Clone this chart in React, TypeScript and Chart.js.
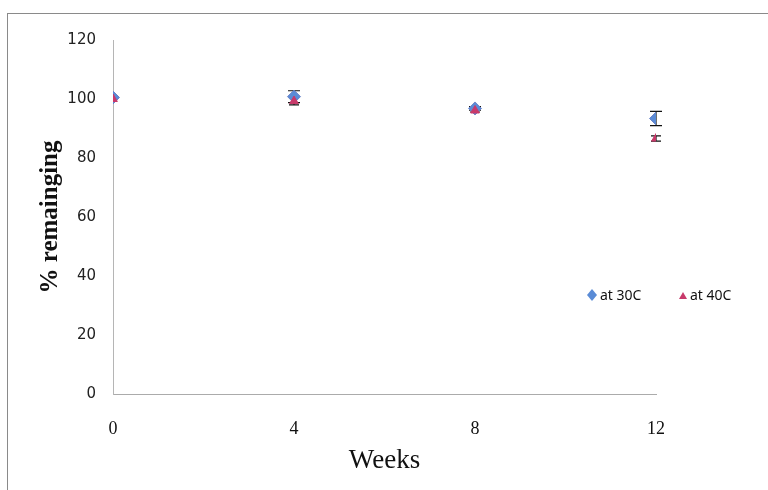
import React, { useEffect, useRef } from "react";
import { Chart, registerables } from "chart.js";

Chart.register(...registerables);

const weeks = [0, 4, 8, 12];
const at30 = [100.5, 100.8, 96.8, 93.4];
const at40 = [100.0, 99.3, 96.1, 86.6];
const err30 = [0, 2.0, 0.6, 2.4];
const err40 = [0, 1.3, 0.5, 0.9];
const xTicks = [0, 4, 8, 12];
const yTicks = [0, 20, 40, 60, 80, 100, 120];
const seriesNames = ["at 30C", "at 40C"];

const BLUE = "#5A8BD6";
const RED = "#C8396A";

const errorBarPlugin = {
  id: "errorBars",
  beforeDatasetsDraw(chart: any) {
    const ctx = chart.ctx;
    const xs = chart.scales.x;
    const ys = chart.scales.y;
    chart.data.datasets.forEach((ds: any) => {
      const errs: number[] = ds.errors || [];
      ds.data.forEach((p: any, i: number) => {
        const e = errs[i];
        if (!e) return;
        const px = xs.getPixelForValue(p.x);
        const top = ys.getPixelForValue(p.y + e);
        const bot = ys.getPixelForValue(p.y - e);
        const cap = ds.capWidth || 5;
        ctx.save();
        ctx.strokeStyle = "#111";
        ctx.lineWidth = 1.2;
        ctx.beginPath();
        ctx.moveTo(px, top);
        ctx.lineTo(px, bot);
        ctx.moveTo(px - cap, top);
        ctx.lineTo(px + cap, top);
        ctx.moveTo(px - cap, bot);
        ctx.lineTo(px + cap, bot);
        ctx.stroke();
        ctx.restore();
      });
    });
  },
};

export default function App() {
  const ref = useRef<HTMLCanvasElement | null>(null);

  useEffect(() => {
    if (!ref.current) return;
    const chart = new Chart(ref.current, {
      type: "scatter",
      data: {
        datasets: [
          {
            label: seriesNames[0],
            data: weeks.map((w, i) => ({ x: w, y: at30[i] })),
            errors: err30,
            capWidth: 6,
            pointStyle: "rectRot",
            pointRadius: 6.5,
            backgroundColor: BLUE,
            borderColor: "#6C84C8",
            borderWidth: 1,
            order: 2,
          } as any,
          {
            label: seriesNames[1],
            data: weeks.map((w, i) => ({ x: w, y: at40[i] })),
            errors: err40,
            capWidth: 5,
            pointStyle: "triangle",
            pointRadius: 5,
            backgroundColor: RED,
            borderColor: RED,
            borderWidth: 1,
            order: 1,
          } as any,
        ],
      },
      options: {
        responsive: false,
        animation: false,
        layout: { padding: { top: 40, right: 112, left: 0, bottom: 0 } },
        plugins: {
          legend: { display: false },
          tooltip: { enabled: false },
        },
        scales: {
          x: {
            type: "linear",
            min: 0,
            max: 12,
            afterFit: (s: any) => {
              s.height = 96;
            },
            afterBuildTicks: (s: any) => {
              s.ticks = xTicks.map((v) => ({ value: v }));
            },
            grid: { display: false, drawTicks: false },
            border: { display: true, color: "#ABABAB", width: 1 },
            ticks: {
              padding: 24,
              color: "#111",
              font: { family: "Liberation Serif", size: 18 },
            },
            title: {
              display: true,
              text: "Weeks",
              color: "#111",
              font: { family: "Liberation Serif", size: 27 },
              padding: { top: 0, bottom: 13 },
            },
          },
          y: {
            type: "linear",
            min: 0,
            max: 120,
            afterFit: (s: any) => {
              s.width = 113;
            },
            afterBuildTicks: (s: any) => {
              s.ticks = yTicks.map((v) => ({ value: v }));
            },
            grid: { display: false, drawTicks: false },
            border: { display: true, color: "#B5B5B5", width: 1 },
            ticks: {
              padding: 17,
              color: "#222",
              font: { family: "DejaVu Sans", size: 15 },
            },
            title: {
              display: true,
              text: "% remainging",
              color: "#111",
              font: { family: "Liberation Serif", size: 25, weight: "bold" },
              padding: { top: 36, bottom: 0 },
            },
          },
        },
      } as any,
      plugins: [errorBarPlugin],
    });
    return () => chart.destroy();
  }, []);

  const legendText: React.CSSProperties = {
    fontFamily: "'Noto Sans', 'Open Sans', sans-serif",
    fontSize: 14,
    color: "#111",
    lineHeight: "16px",
  };

  return (
    <div
      style={{
        position: "fixed",
        left: 0,
        top: 0,
        width: 768,
        height: 490,
        overflow: "hidden",
        background: "#fff",
      }}
    >
      <div
        style={{
          position: "absolute",
          left: 7,
          top: 13,
          width: 800,
          height: 520,
          borderTop: "1px solid #8A8A8A",
          borderLeft: "1px solid #8A8A8A",
        }}
      />
      <canvas
        ref={ref}
        width={768}
        height={490}
        style={{ position: "absolute", left: 0, top: 0, width: 768, height: 490 }}
      />
      <div
        style={{
          position: "absolute",
          left: 586,
          top: 287,
          display: "flex",
          alignItems: "center",
        }}
      >
        <svg width="12" height="14" style={{ marginRight: 2 }}>
          <polygon points="6,1 11,7 6,13 1,7" fill={BLUE} />
        </svg>
        <span style={legendText}>{seriesNames[0]}</span>
      </div>
      <div
        style={{
          position: "absolute",
          left: 678,
          top: 287,
          display: "flex",
          alignItems: "center",
        }}
      >
        <svg width="10" height="14" style={{ marginRight: 2 }}>
          <polygon points="5,4 9,11 1,11" fill={RED} />
        </svg>
        <span style={legendText}>{seriesNames[1]}</span>
      </div>
    </div>
  );
}
